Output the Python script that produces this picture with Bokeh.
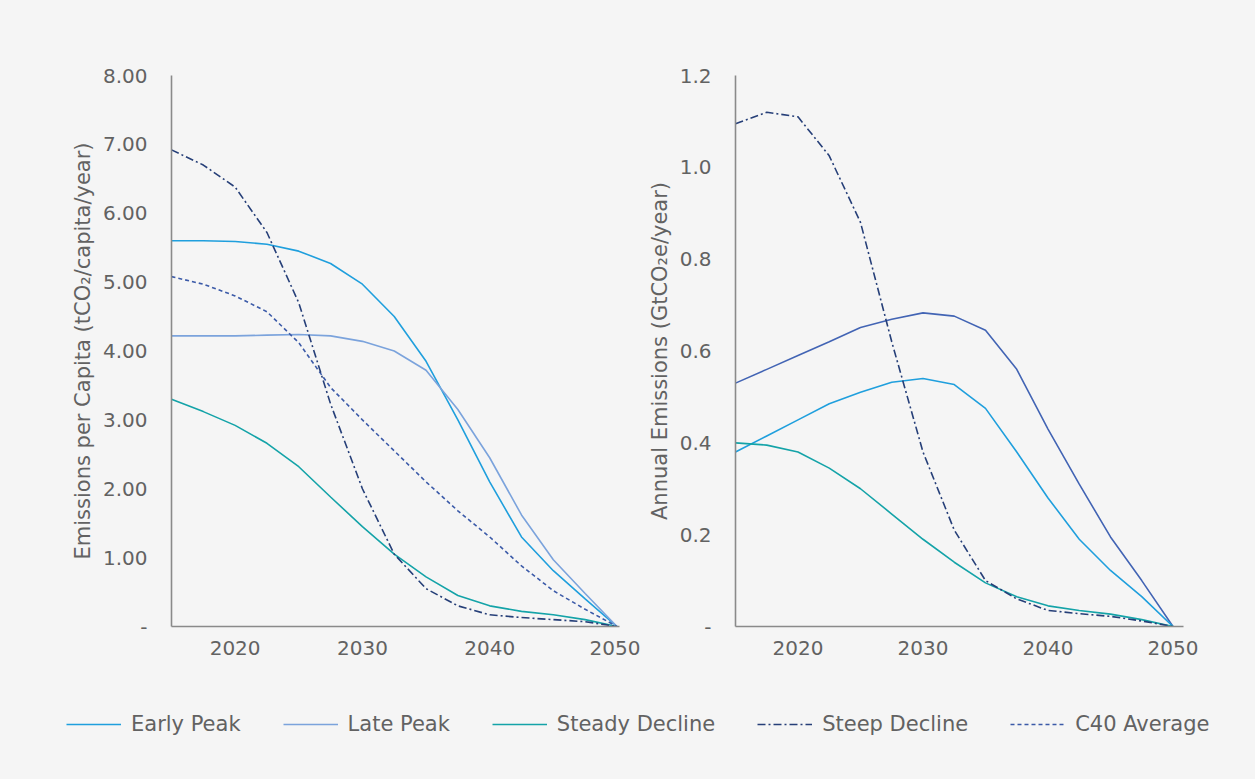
from bokeh.plotting import figure
from bokeh.models import Range1d, Legend, LegendItem, FixedTicker
from bokeh.layouts import column, row
from bokeh.embed import file_html
from bokeh.resources import INLINE

years = [2015, 2017.5, 2020, 2022.5, 2025, 2027.5, 2030, 2032.5, 2035, 2037.5, 2040, 2042.5, 2045, 2047.5, 2050]

# Left panel: emissions per capita (tCO2/capita/year)
early_pc = [5.60, 5.60, 5.59, 5.55, 5.45, 5.27, 4.97, 4.50, 3.85, 3.00, 2.10, 1.30, 0.81, 0.40, 0.0]
late_pc = [4.22, 4.22, 4.22, 4.23, 4.24, 4.22, 4.14, 4.00, 3.72, 3.15, 2.45, 1.62, 0.97, 0.48, 0.0]
steady_pc = [3.30, 3.12, 2.92, 2.66, 2.32, 1.88, 1.45, 1.05, 0.72, 0.45, 0.30, 0.22, 0.17, 0.10, 0.0]
steep_pc = [6.92, 6.70, 6.38, 5.72, 4.70, 3.23, 2.00, 1.05, 0.55, 0.30, 0.17, 0.13, 0.10, 0.07, 0.0]
c40_pc = [5.08, 4.97, 4.80, 4.57, 4.12, 3.47, 3.00, 2.55, 2.10, 1.68, 1.30, 0.88, 0.52, 0.25, 0.0]

# Right panel: annual emissions (GtCO2e/year)
early_an = [0.38, 0.415, 0.45, 0.485, 0.51, 0.532, 0.54, 0.527, 0.475, 0.38, 0.28, 0.19, 0.122, 0.065, 0.0]
late_an = [0.53, 0.56, 0.59, 0.62, 0.651, 0.669, 0.683, 0.676, 0.645, 0.56, 0.43, 0.31, 0.195, 0.10, 0.0]
steady_an = [0.40, 0.395, 0.38, 0.345, 0.30, 0.245, 0.19, 0.14, 0.095, 0.065, 0.045, 0.035, 0.027, 0.015, 0.0]
steep_an = [1.095, 1.12, 1.11, 1.025, 0.88, 0.62, 0.38, 0.21, 0.10, 0.06, 0.035, 0.028, 0.022, 0.012, 0.0]

x_ticks = [2020, 2030, 2040, 2050]
left_ticks = [0, 1, 2, 3, 4, 5, 6, 7, 8]
left_labels = ["-", "1.00", "2.00", "3.00", "4.00", "5.00", "6.00", "7.00", "8.00"]
right_ticks = [0, 0.2, 0.4, 0.6, 0.8, 1.0, 1.2]
right_labels = ["-", "0.2", "0.4", "0.6", "0.8", "1.0", "1.2"]

series_names = ["Early Peak", "Late Peak", "Steady Decline", "Steep Decline", "C40 Average"]

BG = "#f5f5f5"
FONT = "DejaVu Sans"
TXT = "#626262"
AX = "#8a8a8a"

C_EARLY = "#1f9fdd"
C_LATE = "#7ba3dc"
C_LATE_R = "#4264b4"
C_STEADY = "#14a3a8"
C_STEEP = "#263f78"
C_C40 = "#3b5aa8"
DASHDOT = "8 3 2 3"
DASH = "4 3"
LW = 1.6


def style(p, ticks, labels, ylabel):
    p.background_fill_color = BG
    p.border_fill_color = BG
    p.outline_line_color = None
    p.xgrid.visible = False
    p.ygrid.visible = False
    for ax in (p.xaxis[0], p.yaxis[0]):
        ax.axis_line_color = AX
        ax.axis_line_width = 1.6
        ax.major_tick_line_color = None
        ax.minor_tick_line_color = None
        ax.major_tick_out = 0
        ax.major_tick_in = 0
        ax.major_label_text_font = FONT
        ax.major_label_text_font_size = "20px"
        ax.major_label_text_color = TXT
        ax.axis_label_text_font = FONT
        ax.axis_label_text_font_size = "21px"
        ax.axis_label_text_font_style = "normal"
        ax.axis_label_text_color = TXT
    p.xaxis[0].ticker = FixedTicker(ticks=x_ticks)
    p.xaxis[0].major_label_standoff = 14
    p.yaxis[0].ticker = FixedTicker(ticks=ticks)
    p.yaxis[0].major_label_overrides = {t: l for t, l in zip(ticks, labels)}
    p.yaxis[0].major_label_standoff = 24
    p.yaxis[0].axis_label = ylabel
    p.yaxis[0].axis_label_standoff = 5


p1 = figure(width=640, height=688, output_backend="svg", toolbar_location=None,
            x_range=Range1d(2015, 2050.2), y_range=Range1d(0, 8),
            min_border_left=171, min_border_right=21, min_border_top=75, min_border_bottom=62)
style(p1, left_ticks, left_labels, "Emissions per Capita (tCO\u2082/capita/year)")
p1.line(years, early_pc, line_color=C_EARLY, line_width=LW)
p1.line(years, late_pc, line_color=C_LATE, line_width=LW)
p1.line(years, steady_pc, line_color=C_STEADY, line_width=LW)
p1.line(years, c40_pc, line_color=C_C40, line_width=LW, line_dash=DASH)
p1.line(years, steep_pc, line_color=C_STEEP, line_width=LW, line_dash=DASHDOT)

p2 = figure(width=615, height=688, output_backend="svg", toolbar_location=None,
            x_range=Range1d(2015, 2050.84), y_range=Range1d(0, 1.2),
            min_border_left=95, min_border_right=72, min_border_top=63, min_border_bottom=62)
style(p2, right_ticks, right_labels, "Annual Emissions (GtCO\u2082e/year)")
p2.line(years, late_an, line_color=C_LATE_R, line_width=LW)
p2.line(years, early_an, line_color=C_EARLY, line_width=LW)
p2.line(years, steady_an, line_color=C_STEADY, line_width=LW)
p2.line(years, steep_an, line_color=C_STEEP, line_width=LW, line_dash=DASHDOT)

# Legend panel (series drawn off-range so only their legend glyphs show)
pl = figure(width=1255, height=91, output_backend="svg", toolbar_location=None,
            x_range=Range1d(0, 1), y_range=Range1d(0, 1),
            min_border_left=0, min_border_right=0, min_border_top=0, min_border_bottom=0)
pl.background_fill_color = BG
pl.border_fill_color = BG
pl.outline_line_color = None
pl.xaxis.visible = False
pl.yaxis.visible = False
pl.xgrid.visible = False
pl.ygrid.visible = False
leg_data = [early_pc, late_pc, steady_pc, steep_pc, c40_pc]
leg_colors = [C_EARLY, C_LATE, C_STEADY, C_STEEP, C_C40]
leg_dash = ["solid", "solid", "solid", DASHDOT, DASH]
items = []
for name, vals, c, d in zip(series_names, leg_data, leg_colors, leg_dash):
    r = pl.line(years, vals, line_color=c, line_width=LW, line_dash=d)
    items.append(LegendItem(label=name, renderers=[r]))
leg = Legend(items=items, orientation="horizontal", location=(66, 43),
             glyph_width=55, glyph_height=20, label_standoff=10, spacing=42,
             padding=0, margin=0, border_line_color=None, background_fill_alpha=0,
             label_text_font=FONT, label_text_font_size="21px", label_text_color=TXT)
pl.add_layout(leg, "center")

layout = column(row(p1, p2, styles={"background-color": BG}), pl,
                styles={"background-color": BG})
open("out.html", "w").write(file_html(layout, INLINE))
